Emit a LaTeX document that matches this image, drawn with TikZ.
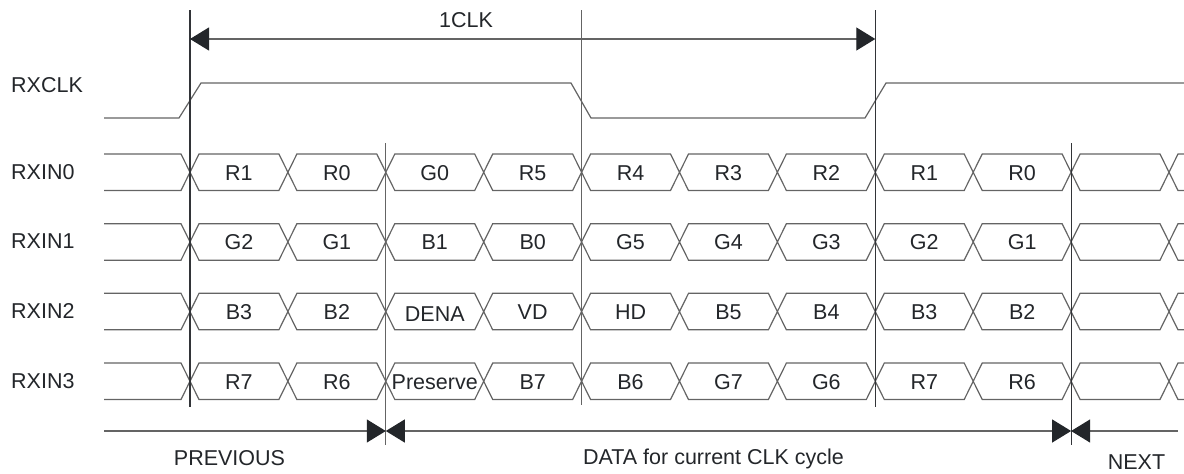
\documentclass[tikz,border=0pt]{standalone}
\usepackage{fontspec}
\setmainfont{Liberation Sans}
\usetikzlibrary{arrows.meta}
\definecolor{wire}{RGB}{100,100,100}
\definecolor{edgemark}{RGB}{50,52,56}
\definecolor{ink}{RGB}{35,38,42}
\begin{document}
\begin{tikzpicture}[x=1pt,y=-1pt,
  font=\fontsize{21.5}{26}\selectfont,
  wire/.style={draw=wire,line width=1.2pt,line join=miter},
  guide/.style={draw=edgemark,line width=1.2pt},
  softguide/.style={draw=wire,line width=1.2pt},
  lbl/.style={text=ink,inner sep=0pt,anchor=base},
  siglbl/.style={text=ink,inner sep=0pt,anchor=base west},
  bigtri/.tip={Triangle[length=19pt,width=23pt,color=ink]}]
\useasboundingbox (0,0) rectangle (1184,474);
\clip (0,0) rectangle (1184,474);
% bit period and first transition
\def\per{97.9}
\def\xo{190}
% clock waveform
\node[siglbl] (rxclk) at (11,92) {RXCLK};
\draw[wire] (104,118) -- (179,118) -- (201,83) -- (571,83) -- (591,118)
  -- (865,118) -- (886,83) -- (1184,83);
% data lanes
\foreach \i/\sig in {0/RXIN0,1/RXIN1,2/RXIN2,3/RXIN3} {
  \pgfmathsetmacro\T{154+69.67*\i}
  \pgfmathsetmacro\B{\T+36.5}
  \pgfmathsetmacro\M{\T+18.25}
  \node[siglbl] (sig\i) at (11,\T+25) {\sig};
  \draw[wire] (104,\T)
    \foreach \k in {0,...,10} { -- ({\xo+\per*\k-9},\T) -- ({\xo+\per*\k},\M) -- ({\xo+\per*\k+9},\T) }
    -- (1190,\T);
  \draw[wire] (104,\B)
    \foreach \k in {0,...,10} { -- ({\xo+\per*\k-9},\B) -- ({\xo+\per*\k},\M) -- ({\xo+\per*\k+9},\B) }
    -- (1190,\B);
}
% bit contents
\foreach \k/\t in {0/R1,1/R0,2/G0,3/R5,4/R4,5/R3,6/R2,7/R1,8/R0}
  \node[lbl] (a\k) at ({\xo+\per*\k+\per/2},180) {\t};
\foreach \k/\t in {0/G2,1/G1,2/B1,3/B0,4/G5,5/G4,6/G3,7/G2,8/G1}
  \node[lbl] (b\k) at ({\xo+\per*\k+\per/2},249.7) {\t};
\foreach \k/\t in {0/B3,1/B2,3/VD,4/HD,5/B5,6/B4,7/B3,8/B2}
  \node[lbl] (c\k) at ({\xo+\per*\k+\per/2},319.4) {\t};
\node[lbl] (c2) at ({\xo+\per*2+\per/2},321.4) {DENA};
\foreach \k/\t in {0/R7,1/R6,2/Preserve,3/B7,4/B6,5/G7,6/G6,7/R7,8/R6}
  \node[lbl] (d\k) at ({\xo+\per*\k+\per/2},389) {\t};
% timing guides
\draw[guide] ({\xo},10) -- ({\xo},407);
\draw[softguide] ({\xo+4*\per},10) -- ({\xo+4*\per},405);
\draw[guide] ({\xo+7*\per},10) -- ({\xo+7*\per},407);
\draw[softguide] ({\xo+2*\per},143) -- ({\xo+2*\per},445);
\draw[guide] ({\xo+9*\per},143) -- ({\xo+9*\per},445);
% one clock period
\coordinate (clkL) at ({\xo},39);
\coordinate (clkR) at ({\xo+7*\per},39);
\draw[wire,{bigtri}-{bigtri}] (clkL) -- (clkR);
\node[lbl] (oneclk) at (466,27) {1CLK};
% data windows
\coordinate (w0) at (104,431);
\coordinate (w1) at ({\xo+2*\per},431);
\coordinate (w2) at ({\xo+9*\per},431);
\coordinate (w3) at (1178,431);
\draw[wire,-{bigtri}] (w0) -- (w1);
\draw[wire,{bigtri}-{bigtri}] (w1) -- (w2);
\draw[wire,{bigtri}-] (w2) -- (w3);
\node[lbl] (prev) at (229.5,465) {PREVIOUS};
\node[lbl] (cur) at (713.5,464) {DATA for current CLK cycle};
\node[lbl] (next) at (1136.5,469) {NEXT};
\end{tikzpicture}
\end{document}
